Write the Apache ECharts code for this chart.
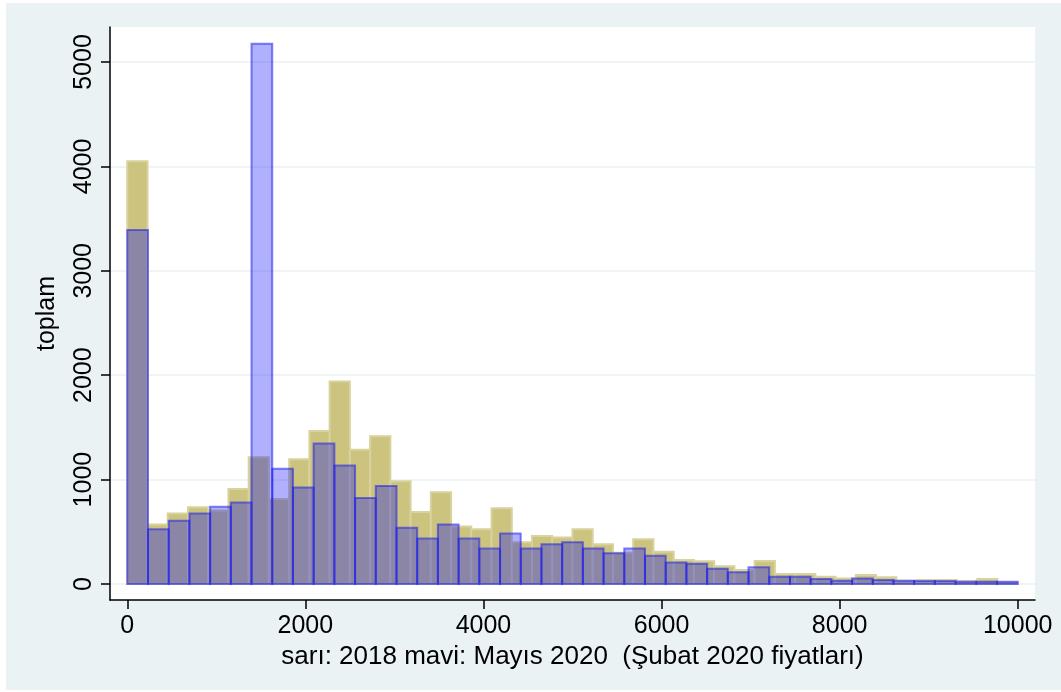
<!DOCTYPE html>
<html>
<head>
<meta charset="utf-8">
<script src="https://cdn.jsdelivr.net/npm/echarts@6/dist/echarts.min.js"></script>
<style>
  html, body { margin: 0; padding: 0; background: #ffffff; }
  #chart { position: absolute; left: 6px; top: 3px; width: 1055px; height: 687px; }
</style>
</head>
<body>
<div id="chart"></div>
<script>
// Histogram of 2018 (sarı / yellow): 44 bins from 0 to 10000
const yellowStart = 0;
const yellowBinWidth = 10000 / 44;
const yellowCounts = [
  4050, 570, 675, 735, 705, 910, 1215, 815, 1195, 1465,
  1940, 1285, 1415, 985, 690, 880, 550, 525, 725, 400,
  460, 445, 525, 380, 300, 430, 310, 230, 218, 170,
  134, 220, 96, 96, 70, 54, 86, 64, 32, 38,
  38, 29, 48, 15
];
// Histogram of May 2020 (mavi / blue): 43 bins from 0 to 10000
const blueStart = 0;
const blueBinWidth = 10000 / 43;
const blueCounts = [
  3390, 525, 605, 675, 740, 780, 5175, 1105, 925, 1345,
  1135, 825, 940, 540, 435, 570, 435, 340, 485, 340,
  380, 400, 340, 295, 340, 270, 205, 195, 147, 112,
  160, 70, 70, 48, 32, 54, 38, 32, 29, 29,
  22, 22, 22
];
const xTicks = [0, 2000, 4000, 6000, 8000, 10000];
const yTicks = [0, 1000, 2000, 3000, 4000, 5000];
const xTitle = 'sarı: 2018 mavi: Mayıs 2020  (Şubat 2020 fiyatları)';
const yTitle = 'toplam';

function binData(start, width, counts) {
  return counts.map((c, i) => [start + i * width, start + (i + 1) * width, c]);
}

function rectRenderer(fill, stroke) {
  return function (params, api) {
    const p0 = api.coord([api.value(0), 0]);
    const p1 = api.coord([api.value(1), api.value(2)]);
    return {
      type: 'rect',
      shape: { x: p0[0], y: p1[1], width: p1[0] - p0[0], height: p0[1] - p1[1] },
      style: { fill: fill, stroke: stroke, lineWidth: 2 }
    };
  };
}

const FONT = '"Liberation Sans", Arial, sans-serif';
const plain = v => String(v);

const chart = echarts.init(document.getElementById('chart'), null, { renderer: 'canvas' });
chart.setOption({
  animation: false,
  backgroundColor: '#EAF2F3',
  grid: {
    left: 104, right: 26, top: 24, bottom: 90,
    containLabel: false, outerBoundsMode: 'none',
    show: true, backgroundColor: '#ffffff', borderWidth: 0
  },
  xAxis: {
    type: 'value',
    min: -194,
    max: 10194,
    name: xTitle,
    nameLocation: 'middle',
    nameGap: 44,
    nameTextStyle: { color: '#000', fontFamily: FONT, fontSize: 26 },
    axisLine: { show: true, onZero: false, lineStyle: { color: '#000', width: 1.5 } },
    axisTick: { show: true, length: 9, customValues: xTicks, lineStyle: { color: '#000', width: 1.5 } },
    axisLabel: { customValues: xTicks, formatter: plain, color: '#000', fontFamily: FONT, fontSize: 25, margin: 14 },
    splitLine: { show: false }
  },
  yAxis: {
    type: 'value',
    min: -153,
    max: 5335,
    name: yTitle,
    nameLocation: 'middle',
    nameRotate: 90,
    nameGap: 50,
    nameTextStyle: { color: '#000', fontFamily: FONT, fontSize: 25 },
    axisLine: { show: true, onZero: false, lineStyle: { color: '#000', width: 1.5 } },
    axisTick: { show: true, length: 9, customValues: yTicks, lineStyle: { color: '#000', width: 1.5 } },
    axisLabel: { customValues: yTicks, formatter: plain, rotate: 90, color: '#000', fontFamily: FONT, fontSize: 25, margin: 13 },
    splitLine: { show: true, lineStyle: { color: '#EAF2F3', width: 1.5 } }
  },
  series: [
    {
      type: 'custom',
      name: '2018',
      renderItem: rectRenderer('#CBC37E', '#D8D29E'),
      encode: { x: [0, 1], y: 2 },
      data: binData(yellowStart, yellowBinWidth, yellowCounts),
      z: 2
    },
    {
      type: 'custom',
      name: 'Mayıs 2020',
      renderItem: rectRenderer('rgba(0,0,255,0.31)', 'rgba(30,30,235,0.55)'),
      encode: { x: [0, 1], y: 2 },
      data: binData(blueStart, blueBinWidth, blueCounts),
      z: 3
    }
  ]
});
</script>
</body>
</html>
